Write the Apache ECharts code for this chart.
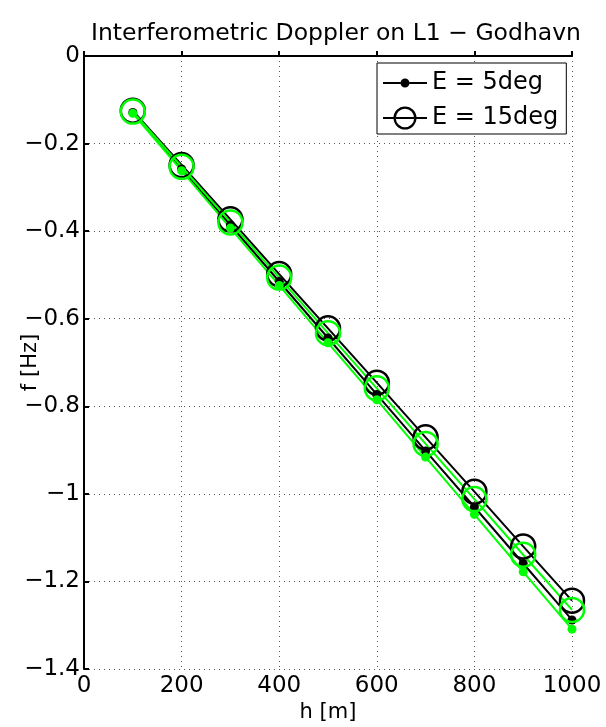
<!DOCTYPE html>
<html>
<head>
<meta charset="utf-8">
<script src="https://cdn.jsdelivr.net/npm/echarts@6/dist/echarts.min.js"></script>
<style>
  html, body { margin: 0; padding: 0; background: #fff; }
  #chart { width: 606px; height: 727px; }
</style>
</head>
<body>
<div id="chart"></div>
<script>
// heights [m]
const heights = [100, 200, 300, 400, 500, 600, 700, 800, 900, 1000];
// black curves
const e5Black = [-0.129, -0.258, -0.386, -0.515, -0.644, -0.773, -0.902, -1.030, -1.159, -1.288];
const e15Black = [-0.125, -0.249, -0.373, -0.498, -0.622, -0.746, -0.871, -0.995, -1.120, -1.244];
// green curves
const e5Green = [-0.131, -0.262, -0.393, -0.524, -0.655, -0.785, -0.916, -1.047, -1.178, -1.309];
const e15Green = [-0.127, -0.253, -0.380, -0.506, -0.633, -0.759, -0.886, -1.012, -1.139, -1.265];

const FONT = "DejaVu Sans, sans-serif";

// legend icons: line with small dot / line through a ring (44 x 24 box)
const ICON_DOT = 'path://M0 0 M44 24 M0 11 L17.5 11 L17.5 13 L0 13 Z M26.5 11 L44 11 L44 13 L26.5 13 Z ' +
  'M17.5 12 A4.5 4.5 0 1 1 26.5 12 A4.5 4.5 0 1 1 17.5 12 Z';
const ICON_RING = 'path://M0 0 M44 24 M0 11 L11 11 L11 13 L0 13 Z M33 11 L44 11 L44 13 L33 13 Z ' +
  'M13 11 L31 11 L31 13 L13 13 Z ' +
  'M10.5 12 A11.5 11.5 0 1 1 33.5 12 A11.5 11.5 0 1 1 10.5 12 Z ' +
  'M12.8 12 A9.2 9.2 0 1 0 31.2 12 A9.2 9.2 0 1 0 12.8 12 Z';

function pairs(ys) {
  return heights.map((h, i) => [h, ys[i]]);
}

function dotSeries(name, ys, color) {
  return {
    name: name,
    type: 'line',
    data: pairs(ys),
    symbol: 'circle',
    symbolSize: 9,
    lineStyle: { color: color, width: 2 },
    itemStyle: { color: color },
    emphasis: { disabled: true }
  };
}
function ringSeries(name, ys, color) {
  return {
    name: name,
    type: 'line',
    data: pairs(ys),
    symbol: 'circle',
    symbolSize: 24,
    lineStyle: { color: color, width: 2 },
    itemStyle: { color: 'transparent', borderColor: color, borderWidth: 2.5 },
    emphasis: { disabled: true }
  };
}

let myChart = echarts.init(document.getElementById('chart'));
let option = {
  backgroundColor: '#fff',
  animation: false,
  title: {
    text: 'Interferometric Doppler on L1 \u2212 Godhavn',
    left: 331,
    top: 17,
    textAlign: 'center',
    textStyle: { fontFamily: FONT, fontSize: 23.5, fontWeight: 'normal', color: '#000' }
  },
  legend: {
    data: [
      { name: 'E = 5deg', icon: ICON_DOT, itemStyle: { color: '#000', borderWidth: 0 } },
      { name: 'E = 15deg', icon: ICON_RING, itemStyle: { color: '#000', borderWidth: 0 } }
    ],
    left: 377,
    top: 63,
    orient: 'vertical',
    backgroundColor: '#fff',
    borderColor: '#000',
    borderWidth: 1,
    padding: [8, 8, 4, 6],
    itemGap: 11,
    itemWidth: 44,
    itemHeight: 24,
    textStyle: { fontFamily: FONT, fontSize: 24, color: '#000' }
  },
  grid: { left: 84, right: 34, top: 56, bottom: 58, outerBoundsMode: 'none' },
  xAxis: {
    type: 'value',
    min: 0,
    max: 1000,
    interval: 200,
    name: 'h [m]',
    nameLocation: 'middle',
    nameGap: 33,
    nameMoveOverlap: false,
    nameTextStyle: { fontFamily: FONT, fontSize: 21, color: '#000' },
    axisLine: { lineStyle: { color: '#000', width: 2 } },
    axisTick: { inside: true, length: 5, lineStyle: { color: '#000', width: 2 } },
    axisLabel: {
      fontFamily: FONT, fontSize: 23, color: '#000', margin: 6,
      formatter: function (v) { return String(v); }
    },
    splitLine: { show: true, lineStyle: { color: '#555', width: 1, type: [1, 4] } }
  },
  yAxis: {
    type: 'value',
    min: -1.4,
    max: 0,
    interval: 0.2,
    name: 'f [Hz]',
    nameLocation: 'middle',
    nameGap: 43,
    nameMoveOverlap: false,
    nameRotate: 90,
    nameTextStyle: { fontFamily: FONT, fontSize: 21, color: '#000' },
    axisLine: { lineStyle: { color: '#000', width: 2 } },
    axisTick: { inside: true, length: 5, lineStyle: { color: '#000', width: 2 } },
    axisLabel: {
      fontFamily: FONT, fontSize: 23, color: '#000', margin: 4,
      formatter: function (v) { return String(Math.round(v * 10) / 10).replace('-', '\u2212'); }
    },
    splitLine: { show: true, lineStyle: { color: '#555', width: 1, type: [1, 4] } }
  },
  series: [
    dotSeries('E = 5deg', e5Black, '#000'),
    ringSeries('E = 15deg', e15Black, '#000'),
    dotSeries('green 5deg', e5Green, '#00ff00'),
    ringSeries('green 15deg', e15Green, '#00ff00')
  ]
};
myChart.setOption(option);
</script>
</body>
</html>
